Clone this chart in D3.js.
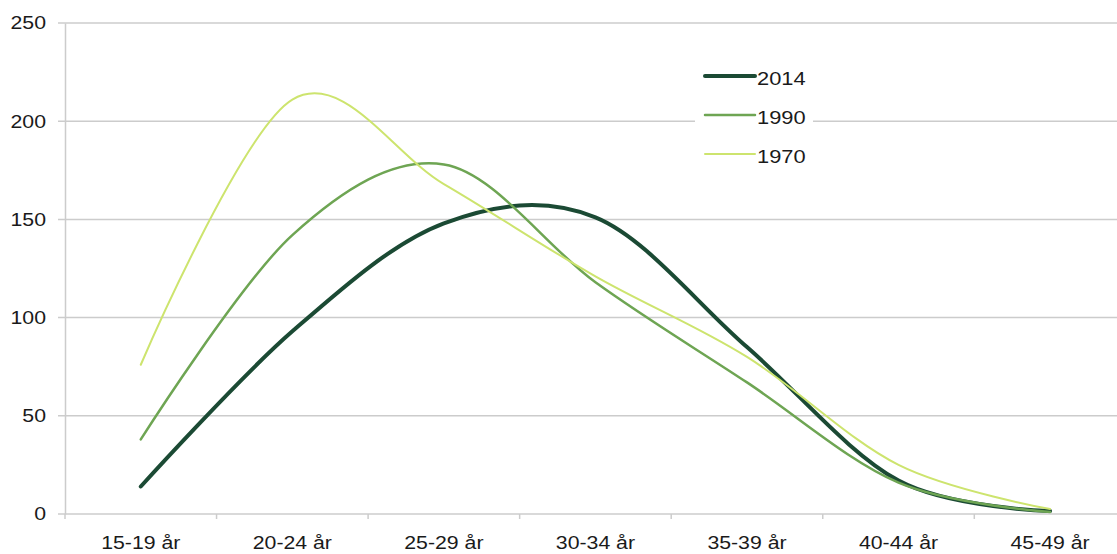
<!DOCTYPE html>
<html>
<head>
<meta charset="utf-8">
<script src="https://cdn.jsdelivr.net/npm/d3@7"></script>
<style>
  body { margin: 0; background: #fff; }
  text { font-family: "Liberation Sans", Arial, sans-serif; fill: #1a1a1a; }
</style>
</head>
<body>
<div id="chart"></div>
<script>
const categories = ['15-19 år', '20-24 år', '25-29 år', '30-34 år', '35-39 år', '40-44 år', '45-49 år'];
const years = ['2014', '1990', '1970'];
const values2014 = [14, 93, 148, 151, 85, 17, 1.5];
const values1990 = [38, 142, 178, 118, 67, 16, 1];
const values1970 = [76, 211, 168, 121, 80, 25, 2.5];
const yTicks = [0, 50, 100, 150, 200, 250];

const seriesValues = [values2014, values1990, values1970];
const colors = ['#1b4a34', '#6ea553', '#cde46e'];
const widths = [4, 2.5, 2];

const width = 1117, height = 554;
const margin = { top: 23, left: 65, bottom: 40 };
const step = 151.55;
const stretch = 'scale(1.15,1)';

const svg = d3.select('#chart').append('svg')
  .attr('width', width)
  .attr('height', height);

const x = d3.scaleBand().domain(categories).range([margin.left, margin.left + step * categories.length]);
const y = d3.scaleLinear().domain([0, 250]).range([height - margin.bottom, margin.top]);
const right = x.range()[1];

// gridlines (with the little outward tick on the left)
svg.append('g').attr('class', 'grid')
  .selectAll('line').data(yTicks).enter().append('line')
  .attr('x1', margin.left - 7).attr('x2', right)
  .attr('y1', d => y(d)).attr('y2', d => y(d))
  .attr('stroke', '#cccccc').attr('stroke-width', 1.5);

const yAxis = svg.append('g')
  .attr('class', 'axis axis-y')
  .attr('transform', `translate(${margin.left},0)`)
  .call(d3.axisLeft(y).tickValues(yTicks).tickSize(0).tickPadding(19));
yAxis.select('.domain').attr('stroke', '#cccccc').attr('stroke-width', 1.5);
yAxis.selectAll('text').style('font-size', '18.5px')
  .attr('transform', function() { return `translate(${d3.select(this).attr('x')},0) ${stretch}`; })
  .attr('x', 0);

// category tick marks on the boundaries
svg.append('g').attr('class', 'xticks')
  .selectAll('line').data(d3.range(categories.length + 1)).enter().append('line')
  .attr('x1', i => x.range()[0] + i * x.step()).attr('x2', i => x.range()[0] + i * x.step())
  .attr('y1', y(0)).attr('y2', y(0) + 5)
  .attr('stroke', '#cccccc').attr('stroke-width', 1.5);

const xAxis = svg.append('g')
  .attr('class', 'axis axis-x')
  .attr('transform', `translate(0,${y(0)})`)
  .call(d3.axisBottom(x).tickSize(0).tickPadding(22));
xAxis.select('.domain').remove();
xAxis.selectAll('text').style('font-size', '18.5px').attr('transform', stretch);

// legend box sits on top of the gridlines
const legend = svg.append('g').attr('class', 'legend');
legend.append('rect')
  .attr('x', 695).attr('y', 57).attr('width', 118).attr('height', 116)
  .attr('fill', '#fff');
const rows = legend.selectAll('.row').data(years).enter().append('g')
  .attr('class', 'row')
  .attr('transform', (d, i) => `translate(705,${76 + i * 39})`);
rows.append('line')
  .attr('x1', 0).attr('x2', 50)
  .attr('stroke', (d, i) => colors[i])
  .attr('stroke-width', (d, i) => widths[i])
  .attr('stroke-linecap', 'round');
rows.append('text')
  .attr('transform', `translate(52,9) ${stretch}`)
  .style('font-size', '19px')
  .text(d => d);

const line = d3.line()
  .x((d, i) => x(categories[i]) + x.bandwidth() / 2)
  .y(d => y(d))
  .curve(d3.curveCatmullRom.alpha(0));

svg.append('g').attr('class', 'lines')
  .selectAll('path').data(seriesValues).enter().append('path')
  .attr('d', d => line(d))
  .attr('fill', 'none')
  .attr('stroke', (d, i) => colors[i])
  .attr('stroke-width', (d, i) => widths[i])
  .attr('stroke-linejoin', 'round')
  .attr('stroke-linecap', 'round');
</script>
</body>
</html>
